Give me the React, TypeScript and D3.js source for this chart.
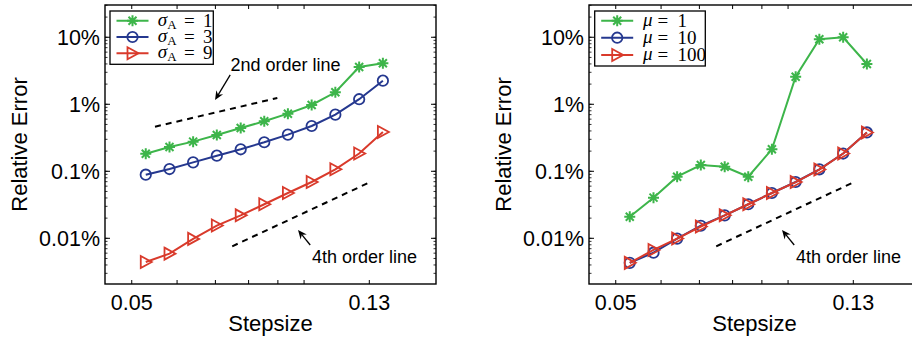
import React from 'react';
import * as d3 from 'd3';

// stepsize (x) shared by every series
const stepsize = [0.0529, 0.0582, 0.064, 0.0704, 0.0775, 0.0852, 0.0937, 0.1031, 0.1134, 0.1248, 0.1373];

// relative error in %, left panel
const sigma1 = [0.183, 0.231, 0.277, 0.348, 0.443, 0.557, 0.724, 0.976, 1.51, 3.6, 4.09];
const sigma3 = [0.089, 0.108, 0.136, 0.171, 0.213, 0.271, 0.352, 0.474, 0.7, 1.19, 2.25];
const sigma9 = [0.00443, 0.0059, 0.0098, 0.0155, 0.022, 0.0322, 0.0474, 0.0692, 0.107, 0.184, 0.386];

// relative error in %, right panel
const mu1 = [0.021, 0.0404, 0.083, 0.124, 0.117, 0.083, 0.213, 2.58, 9.33, 10, 3.99];
const mu10 = [0.0043, 0.0061, 0.0099, 0.0154, 0.022, 0.0322, 0.0474, 0.0692, 0.107, 0.184, 0.38];
const mu100 = [0.0043, 0.0067, 0.0099, 0.015, 0.022, 0.0322, 0.0474, 0.069, 0.106, 0.184, 0.38];

const xTicks = [0.05, 0.06, 0.07, 0.08, 0.09, 0.1, 0.13];
const xTickLabels = ['0.05', '', '', '', '', '', '0.13'];
const yMajor = [0.01, 0.1, 1, 10];
const yTickLabels = ['0.01%', '0.1%', '1%', '10%'];

// reference slopes [stepsize, error%]
const line2nd = [[0.0549, 0.463], [0.0898, 1.24]];
const line4th = [[0.0749, 0.0076], [0.1302, 0.0685]];

const GREEN = '#3db54a';
const BLUE = '#25388f';
const RED = '#d93a2b';

const W = 912, H = 339;
const top = 5, bottom = 284, pw = 331;
const sans = 'Liberation Sans, Arial, Helvetica, sans-serif';
const serif = 'Liberation Serif, Times New Roman, serif';

const x = d3.scaleLog().domain([0.0449, 0.17]).range([0, pw]);
const y = d3.scaleLog().domain([0.00208, 30.3]).range([bottom, top]);

const yMinor: number[] = [];
[0.001, 0.01, 0.1, 1, 10].forEach(d => {
  for (let k = 1; k <= 9; k++) {
    const v = d * k;
    if (v > 0.00208 && v < 30.3) yMinor.push(v);
  }
});

const Marker = ({ type, color }) => {
  if (type === 'circle') return <circle r={5.2} fill="none" stroke={color} strokeWidth={1.8} />;
  if (type === 'tri') return <path d="M-5,-6L6,0L-5,6Z" fill="none" stroke={color} strokeWidth={1.8} strokeLinejoin="miter" />;
  return <path d="M-5.5,0L5.5,0M0,-5.5L0,5.5M-4,-4L4,4M-4,4L4,-4" stroke={color} strokeWidth={2} />;
};

const Arrow = ({ tail, head }) => {
  const [x1, y1] = tail, [x2, y2] = head;
  const a = Math.atan2(y2 - y1, x2 - x1);
  const len = 9, hw = 4, notch = 6;
  const p = (l, w) => [x2 - l * Math.cos(a) - w * Math.sin(a), y2 - l * Math.sin(a) + w * Math.cos(a)];
  const pts = [[x2, y2], p(len, hw), p(notch, 0), p(len, -hw)];
  return (
    <g>
      <line x1={x1} y1={y1} x2={p(notch, 0)[0]} y2={p(notch, 0)[1]} stroke="#000" strokeWidth={1.3} />
      <polygon points={pts.map(q => q.join(',')).join(' ')} fill="#000" />
    </g>
  );
};

const Panel = ({ left, series, legend, guides, notes }) => {
  const line = d3.line<number>().x((d, i) => x(stepsize[i])).y(d => y(d));
  const lx = legend.x;
  return (
    <g transform={`translate(${left},0)`}>
      {/* y label */}
      <text transform={`translate(${-78},${144.5}) rotate(-90)`} textAnchor="middle"
        fontFamily={sans} fontSize={22}>Relative Error</text>
      {/* x label */}
      <text x={pw / 2} y={331} textAnchor="middle" fontFamily={sans} fontSize={22}>Stepsize</text>

      {/* ticks */}
      {xTicks.map((t, i) => (
        <g key={'xt' + i}>
          <line x1={x(t)} x2={x(t)} y1={bottom} y2={bottom - 4} stroke="#000" />
          <line x1={x(t)} x2={x(t)} y1={top} y2={top + 4} stroke="#000" />
          {xTickLabels[i] && (
            <text x={x(t)} y={310} textAnchor="middle" fontFamily={sans} fontSize={21.5}>{xTickLabels[i]}</text>
          )}
        </g>
      ))}
      {yMinor.map((t, i) => (
        <g key={'ym' + i}>
          <line x1={0} x2={2.5} y1={y(t)} y2={y(t)} stroke="#000" strokeWidth={0.8} />
          <line x1={pw} x2={pw - 2.5} y1={y(t)} y2={y(t)} stroke="#000" strokeWidth={0.8} />
        </g>
      ))}
      {yMajor.map((t, i) => (
        <g key={'yt' + i}>
          <line x1={0} x2={5} y1={y(t)} y2={y(t)} stroke="#000" />
          <line x1={pw} x2={pw - 5} y1={y(t)} y2={y(t)} stroke="#000" />
          <text x={-5} y={y(t)} dy="0.36em" textAnchor="end" fontFamily={sans} fontSize={21.5}>{yTickLabels[i]}</text>
        </g>
      ))}

      {/* guide lines */}
      {guides.map((g, i) => (
        <line key={'g' + i} x1={x(g[0][0])} y1={y(g[0][1])} x2={x(g[1][0])} y2={y(g[1][1])}
          stroke="#000" strokeWidth={2} strokeDasharray="6,5" />
      ))}
      {notes.map((n, i) => (
        <g key={'n' + i}>
          <Arrow tail={[x(n.tail[0]), y(n.tail[1])]} head={[x(n.head[0]), y(n.head[1])]} />
          <text x={x(n.at[0])} y={y(n.at[1])} fontFamily={sans} fontSize={18}>{n.text}</text>
        </g>
      ))}

      {/* series */}
      {series.map((s, si) => (
        <g key={'s' + si}>
          <path d={line(s.values)} fill="none" stroke={s.color} strokeWidth={2} />
          {s.values.map((v, i) => (
            <g key={i} transform={`translate(${x(stepsize[i])},${y(v)})`}>
              <Marker type={s.marker} color={s.color} />
            </g>
          ))}
        </g>
      ))}

      {/* legend */}
      <rect x={lx} y={11} width={legend.w} height={legend.h} fill="#fff" stroke="#000" strokeWidth={1.3} />
      {series.map((s, i) => {
        const ry = legend.rows[i];
        return (
          <g key={'l' + i}>
            <line x1={lx + 6.5} x2={lx + 38.5} y1={ry} y2={ry} stroke={s.color} strokeWidth={2} />
            <g transform={`translate(${lx + 22.5},${ry})`}><Marker type={s.marker} color={s.color} /></g>
            <text y={ry + 6} fontFamily={serif} fontSize={19}>
              <tspan x={lx + legend.sym} y={ry + 5} fontStyle="italic">{legend.symbol}</tspan>
              {legend.sub && <tspan x={lx + legend.sym + 9.5} y={ry + 8} fontSize={13}>{legend.sub}</tspan>}
              <tspan x={lx + legend.eq} y={ry + 6}>=</tspan>
              <tspan x={lx + legend.val} y={ry + 6}>{s.label}</tspan>
            </text>
          </g>
        );
      })}

      {/* frame */}
      <rect x={0} y={top} width={pw} height={bottom - top} fill="none" stroke="#000" strokeWidth={1.4} />
    </g>
  );
};

const App = () => {
  const leftSeries = [
    { values: sigma1, color: GREEN, marker: 'star', label: '1' },
    { values: sigma3, color: BLUE, marker: 'circle', label: '3' },
    { values: sigma9, color: RED, marker: 'tri', label: '9' },
  ];
  const rightSeries = [
    { values: mu1, color: GREEN, marker: 'star', label: '1' },
    { values: mu10, color: BLUE, marker: 'circle', label: '10' },
    { values: mu100, color: RED, marker: 'tri', label: '100' },
  ];
  const note2 = { text: '2nd order line', at: [0.0744, 3.14], tail: [0.0743, 2.74], head: [0.0699, 1.16] };
  const note4 = { text: '4th order line', at: [0.1032, 0.00428], tail: [0.1025, 0.00794], head: [0.0976, 0.0133] };
  return (
    <svg width={W} height={H} style={{ position: 'absolute', left: 0, top: 0, background: '#fff' }}>
      <Panel left={105} series={leftSeries} guides={[line2nd, line4th]} notes={[note2, note4]}
        legend={{ x: 5, w: 103.3, h: 53.3, rows: [20.7, 37, 53.3], symbol: 'σ', sub: 'A', sym: 47.7, eq: 74, val: 93 }} />
      <Panel left={589} series={rightSeries} guides={[line4th]} notes={[note4]}
        legend={{ x: 5.7, w: 110.6, h: 55, rows: [20.7, 37.7, 55], symbol: 'μ', sub: '', sym: 48.3, eq: 62.7, val: 82.7 }} />
    </svg>
  );
};

export default App;
